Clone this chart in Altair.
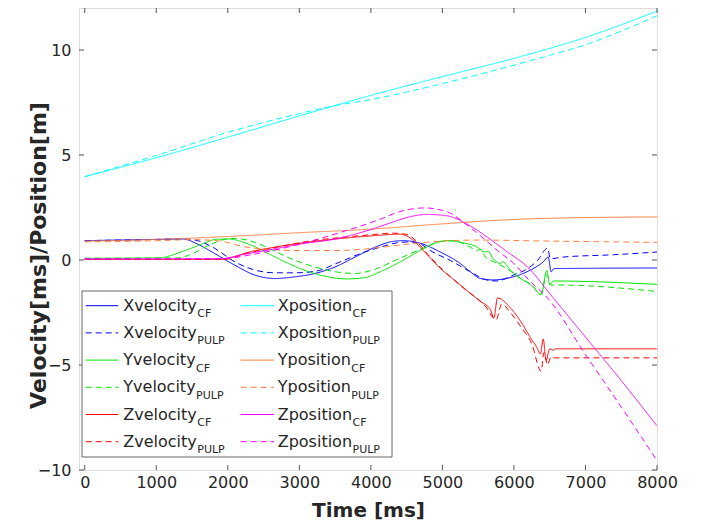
import altair as alt
import pandas as pd

# ---------------- data ----------------
XTICKS = [0, 1000, 2000, 3000, 4000, 5000, 6000, 7000, 8000]
YTICKS = [-10, -5, 0, 5, 10]

XVEL_CF_T = [0, 1000, 1370, 1600, 1820, 2100, 2380, 2660, 2940, 3220, 3500, 3780, 4060, 4300, 4450,
             4690, 4970, 5250, 5390, 5530, 5710, 5990, 6230, 6410, 6480, 6520, 6560, 8000]
XVEL_CF_V = [0.92, 0.98, 1.0, 0.72, 0.3, -0.25, -0.72, -0.88, -0.8, -0.64, -0.33, 0.14, 0.61, 0.88, 0.92,
             0.8, 0.38, -0.17, -0.56, -0.88, -0.95, -0.8, -0.48, -0.09, 0.14, -0.56, -0.41, -0.38]

XVEL_PULP_T = [0, 1000, 1400, 1600, 1820, 2100, 2380, 2660, 2940, 3220, 3570, 3850, 4130, 4410, 4550,
               4700, 4830, 5110, 5390, 5620, 5760, 5990, 6190, 6330, 6470, 6510, 6690, 7390, 8000]
XVEL_PULP_V = [0.92, 0.98, 1.0, 0.9, 0.55, -0.09, -0.48, -0.61, -0.61, -0.54, -0.09, 0.3, 0.61, 0.84, 0.86,
               0.75, 0.45, -0.02, -0.56, -0.95, -1.0, -0.72, -0.41, -0.02, 0.56, 0.06, 0.14, 0.25, 0.38]

YVEL_CF_T = [0, 1030, 1400, 1640, 1830, 2000, 2290, 2570, 2850, 3130, 3400, 3650, 3900, 4130, 4410, 4690,
             4930, 5070, 5250, 5490, 5580, 5640, 5700, 5760, 5810, 5840, 5950, 6060, 6270, 6380, 6460,
             6500, 6550, 8000]
YVEL_CF_V = [0.08, 0.1, 0.45, 0.76, 0.98, 1.0, 0.76, 0.3, -0.17, -0.56, -0.8, -0.9, -0.85, -0.56, -0.09, 0.45,
             0.84, 0.92, 0.84, 0.61, 0.38, 0.42, 0.1, -0.09, -0.17, -0.08, -0.48, -0.8, -1.27, -1.66, -0.5,
             -1.19, -1.0, -1.16]

YVEL_PULP_T = [0, 1300, 1450, 1730, 1915, 2100, 2380, 2660, 2940, 3220, 3500, 3780, 4060, 4350, 4690,
               4970, 5150, 5390, 5480, 5530, 5600, 5720, 5900, 6060, 6270, 6370, 6460, 6520, 6600, 8000]
YVEL_PULP_V = [0.08, 0.1, 0.22, 0.69, 0.95, 1.03, 0.84, 0.41, -0.02, -0.33, -0.56, -0.64, -0.44, 0.0, 0.5,
               0.88, 0.92, 0.61, 0.45, 0.52, 0.14, -0.09, -0.41, -0.8, -1.27, -1.64, -0.72, -1.2, -1.19, -1.5]

ZVEL_CF_T = [0, 1900, 2000, 2300, 2650, 3100, 3600, 4050, 4400, 4550, 4690, 4830, 4970, 5110, 5250, 5390,
             5530, 5670, 5720, 5770, 5950, 6090, 6230, 6320, 6370, 6410, 6450, 6500, 6550, 6580, 8000]
ZVEL_CF_V = [0.03, 0.03, 0.08, 0.38, 0.61, 0.84, 1.03, 1.16, 1.23, 1.05, 0.6, 0.1, -0.4, -0.8, -1.19, -1.58,
             -1.97, -2.36, -2.75, -1.81, -2.28, -2.9, -3.69, -4.16, -4.47, -3.76, -4.78, -4.23, -4.3, -4.23,
             -4.23]

ZVEL_PULP_T = [0, 1950, 2300, 2700, 3100, 3600, 4000, 4300, 4500, 4650, 4800, 5000, 5300, 5600, 5750, 5830,
               5950, 6100, 6250, 6380, 6420, 6470, 6520, 6560, 8000]
ZVEL_PULP_V = [0.03, 0.03, 0.35, 0.62, 0.88, 1.08, 1.2, 1.28, 1.22, 0.85, 0.25, -0.45, -1.35, -2.2, -2.85, -2.1,
               -2.5, -3.2, -4.0, -5.3, -4.4, -5.0, -4.6, -4.66, -4.66]

XPOS_CF_T = [0, 1000, 2000, 3000, 4000, 5000, 6000, 7000, 8000]
XPOS_CF_V = [3.97, 4.87, 5.85, 6.86, 7.84, 8.73, 9.6, 10.6, 11.85]

XPOS_PULP_T = [0, 1000, 2000, 3000, 3500, 4000, 5000, 6000, 6500, 7000, 7500, 8000]
XPOS_PULP_V = [3.97, 4.98, 6.08, 6.97, 7.35, 7.64, 8.4, 9.28, 9.75, 10.25, 10.9, 11.63]

YPOS_CF_T = [0, 1000, 2000, 3000, 4000, 5000, 6000, 7000, 8000]
YPOS_CF_V = [0.9, 0.98, 1.12, 1.3, 1.47, 1.72, 1.93, 2.02, 2.05]

YPOS_PULP_T = [0, 1000, 1500, 1900, 2200, 2600, 3000, 3500, 4000, 4500, 5000, 5500, 6500, 8000]
YPOS_PULP_V = [0.86, 0.92, 0.97, 0.9, 0.65, 0.5, 0.45, 0.45, 0.55, 0.75, 0.9, 0.95, 0.9, 0.84]

ZPOS_CF_T = [0, 1900, 2200, 2600, 3000, 3500, 4000, 4300, 4500, 4790, 5070, 5350, 5630, 5910, 6190, 6500,
             7000, 7500, 8000]
ZPOS_CF_V = [0.05, 0.06, 0.25, 0.5, 0.75, 1.0, 1.45, 1.8, 2.02, 2.17, 2.1, 1.7, 1.08, 0.38, -0.33, -1.6,
             -3.67, -5.74, -7.9]

ZPOS_PULP_T = [0, 1900, 2400, 3000, 3570, 4130, 4400, 4750, 5100, 5300, 5530, 5770, 6000, 6230, 6470, 7000,
               7500, 8000]
ZPOS_PULP_V = [0.05, 0.06, 0.3, 0.75, 1.31, 1.94, 2.3, 2.48, 2.25, 1.78, 1.16, 0.45, -0.17, -1.03, -1.81,
               -4.5, -7.0, -9.55]

NAMES = ["Xvelocity", "Xvelocity", "Yvelocity", "Yvelocity", "Zvelocity", "Zvelocity",
         "Xposition", "Xposition", "Yposition", "Yposition", "Zposition", "Zposition"]
SUBS = ["CF", "PULP"] * 6
COLORS = ["#0000ff", "#0000ff", "#00e600", "#00e600", "#ff0000", "#ff0000",
          "#00ffff", "#00ffff", "#ff7f40", "#ff7f40", "#ff00ff", "#ff00ff"]
SERIES = [(XVEL_CF_T, XVEL_CF_V), (XVEL_PULP_T, XVEL_PULP_V),
          (YVEL_CF_T, YVEL_CF_V), (YVEL_PULP_T, YVEL_PULP_V),
          (ZVEL_CF_T, ZVEL_CF_V), (ZVEL_PULP_T, ZVEL_PULP_V),
          (XPOS_CF_T, XPOS_CF_V), (XPOS_PULP_T, XPOS_PULP_V),
          (YPOS_CF_T, YPOS_CF_V), (YPOS_PULP_T, YPOS_PULP_V),
          (ZPOS_CF_T, ZPOS_CF_V), (ZPOS_PULP_T, ZPOS_PULP_V)]

# ---------------- layout ----------------
W, H = 578, 462
AX = "#555555"
TXT = "#262626"
FONT = "DejaVu Sans"

keys = [f"{n}_{s}" for n, s in zip(NAMES, SUBS)]
rows = []
for k, (n, s), (T, V) in zip(keys, zip(NAMES, SUBS), SERIES):
    for i, (t, v) in enumerate(zip(T, V)):
        rows.append({"key": k, "style": s, "t": t, "v": v, "i": i})
df = pd.DataFrame(rows)

xs = alt.Scale(domain=[-80, 8000], nice=False, zero=False)
ys = alt.Scale(domain=[-10, 12], nice=False, zero=False)

x_axis = alt.Axis(
    values=XTICKS, ticks=False, domain=False, grid=False, labelFontSize=16, labelFont=FONT,
    labelColor=TXT, labelPadding=4, labelFlush=False, format="d",
    title="Time [ms]", titleFontSize=20, titleFont=FONT, titleFontWeight="bold",
    titleColor=TXT, titleY=40, titleBaseline="middle")
y_axis = alt.Axis(
    values=YTICKS, ticks=False, domain=False, grid=False, labelFontSize=16, labelFont=FONT,
    labelColor=TXT, labelPadding=8, labelFlush=False, format="d",
    title="Velocity[ms]/Position[m]", titleFontSize=22, titleFont=FONT, titleFontWeight="bold",
    titleColor=TXT, titleX=-41, titleY=247, titleBaseline="middle", titleAlign="center")

lines = alt.Chart(df).mark_line(strokeWidth=1, clip=True, interpolate="monotone").encode(
    x=alt.X("t:Q", scale=xs, axis=x_axis),
    y=alt.Y("v:Q", scale=ys, axis=y_axis),
    color=alt.Color("key:N", scale=alt.Scale(domain=keys, range=COLORS), legend=None),
    strokeDash=alt.StrokeDash("style:N", scale=alt.Scale(domain=["CF", "PULP"], range=[[1, 0], [6, 4]]),
                              legend=None),
    order="i:Q",
)

xt = pd.DataFrame({"t": XTICKS})
yt = pd.DataFrame({"v": YTICKS})
tick_x_bot = alt.Chart(xt).mark_rule(color=AX, strokeWidth=1).encode(
    x=alt.X("t:Q", scale=xs), y=alt.value(H), y2=alt.value(H - 5))
tick_x_top = alt.Chart(xt).mark_rule(color=AX, strokeWidth=1).encode(
    x=alt.X("t:Q", scale=xs), y=alt.value(0), y2=alt.value(5))
tick_y_left = alt.Chart(yt).mark_rule(color=AX, strokeWidth=1).encode(
    y=alt.Y("v:Q", scale=ys), x=alt.value(0), x2=alt.value(5))
tick_y_right = alt.Chart(yt).mark_rule(color=AX, strokeWidth=1).encode(
    y=alt.Y("v:Q", scale=ys), x=alt.value(W), x2=alt.value(W - 5))

main = alt.layer(lines, tick_x_bot, tick_x_top, tick_y_left, tick_y_right)

# ---------------- legend (manual, for subscripts) ----------------
ADV = {"X": 1405, "Y": 1253, "Z": 1405, "v": 1212, "e": 1260, "l": 569, "o": 1253, "c": 1126,
       "i": 569, "t": 803, "y": 1212, "p": 1300, "s": 1067, "n": 1298}
MAIN_FS, SUB_FS = 16, 11


def text_w(s, fs):
    return sum(ADV.get(ch, 1200) for ch in s) / 2048 * fs


leg_rows = []
for idx, (n, s, c) in enumerate(zip(NAMES, SUBS, COLORS)):
    col = idx // 6
    r = idx % 6
    ly = 297.7 + 27.2 * r
    lx1 = [6.7, 161.7][col]
    lx2 = [39.3, 195.0][col]
    tx = [44.3, 198.7][col]
    leg_rows.append({"name": n, "sub": s, "color": c, "ly": ly, "lx1": lx1, "lx2": lx2,
                     "tx": tx, "ty": ly + 5, "sx": tx + text_w(n, MAIN_FS) + 0.5, "sy": ly + 11.5})
leg = pd.DataFrame(leg_rows)

box = alt.Chart(pd.DataFrame({"a": [0]})).mark_rect(fill="white", stroke="#666666", strokeWidth=1).encode(
    x=alt.value(3), x2=alt.value(313), y=alt.value(283), y2=alt.value(449))

NOAX = dict(scale=None, axis=None)
leg_solid = alt.Chart(leg).transform_filter(alt.datum.sub == "CF").mark_rule(strokeWidth=1).encode(
    x=alt.X("lx1:Q", **NOAX), x2="lx2:Q",
    y=alt.Y("ly:Q", **NOAX), color=alt.Color("color:N", scale=None, legend=None))
leg_dash = alt.Chart(leg).transform_filter(alt.datum.sub == "PULP").mark_rule(
    strokeWidth=1, strokeDash=[6, 4]).encode(
    x=alt.X("lx1:Q", **NOAX), x2="lx2:Q",
    y=alt.Y("ly:Q", **NOAX), color=alt.Color("color:N", scale=None, legend=None))
leg_text = alt.Chart(leg).mark_text(align="left", baseline="alphabetic", fontSize=MAIN_FS, font=FONT,
                                    color=TXT).encode(
    x=alt.X("tx:Q", **NOAX), y=alt.Y("ty:Q", **NOAX), text="name:N")
leg_sub = alt.Chart(leg).mark_text(align="left", baseline="alphabetic", fontSize=SUB_FS, font=FONT,
                                   color=TXT).encode(
    x=alt.X("sx:Q", **NOAX), y=alt.Y("sy:Q", **NOAX), text="sub:N")

legend = alt.layer(box, leg_solid, leg_dash, leg_text, leg_sub)

chart = alt.layer(main, legend).resolve_scale(
    x="independent", y="independent", color="independent", strokeDash="independent"
).resolve_axis(x="independent", y="independent").properties(
    width=W, height=H,
    autosize=alt.AutoSizeParams(type="none"),
    padding={"left": 71, "top": 0, "right": 30, "bottom": 55},
).configure_view(stroke=AX, strokeWidth=1).configure(background="white")

chart.save("out.html", embed_options={"renderer": "svg", "actions": False})
